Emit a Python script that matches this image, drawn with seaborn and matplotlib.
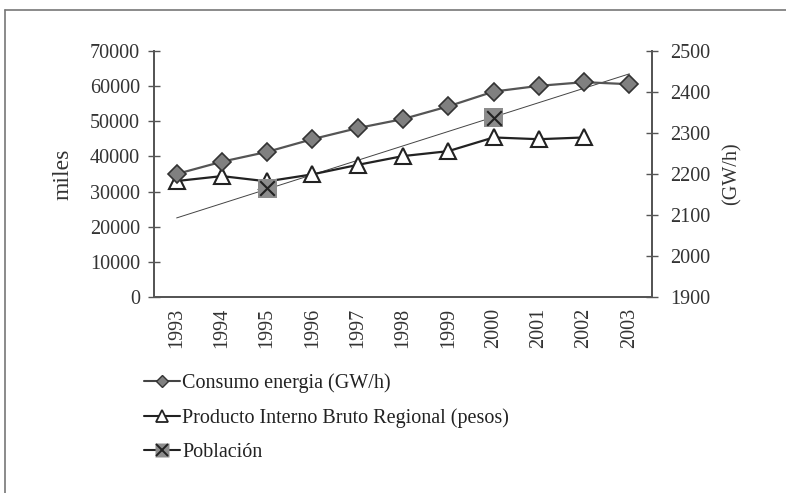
import matplotlib
matplotlib.use("Agg")
import matplotlib.pyplot as plt
from matplotlib.lines import Line2D
import seaborn as sns
import pandas as pd

sns.set_theme(style="white")
plt.rcParams['font.family'] = ['Liberation Serif', 'DejaVu Serif']

years = [1993, 1994, 1995, 1996, 1997, 1998, 1999, 2000, 2001, 2002, 2003]
year_labels = [str(y) for y in years]
consumo_gwh = [2200, 2230, 2254, 2285, 2312, 2334, 2365, 2401, 2415, 2424, 2419]
pib = [33000, 34400, 32900, 34900, 37600, 40100, 41500, 45400, 44900, 45400]
poblacion_years = [1995, 2000]
poblacion = [30900, 51000]
trend_years = [1993, 2003]
trend_vals = [22500, 63500]

left_ticks = [0, 10000, 20000, 30000, 40000, 50000, 60000, 70000]
right_ticks = [1900, 2000, 2100, 2200, 2300, 2400, 2500]

fig = plt.figure(figsize=(7.86, 4.93), dpi=100)
W, H = 786, 493
ax = fig.add_axes([154 / W, 1 - 297 / H, (652 - 154) / W, (297 - 51) / H])
ax2 = ax.twinx()

pos = {y: i for i, y in enumerate(years)}
df_c = pd.DataFrame({"x": [pos[y] for y in years], "v": consumo_gwh})
df_p = pd.DataFrame({"x": [pos[y] for y in years[:len(pib)]], "v": pib})
df_pob = pd.DataFrame({"x": [pos[y] for y in poblacion_years], "v": poblacion})
df_t = pd.DataFrame({"x": [pos[y] for y in trend_years], "v": trend_vals})

# trend line
sns.lineplot(data=df_t, x="x", y="v", ax=ax, color="#444444", lw=0.7, zorder=2)
# PIB
sns.lineplot(data=df_p, x="x", y="v", ax=ax, color="#222222", lw=1.6,
             marker="^", markersize=11, markerfacecolor="white",
             markeredgecolor="#222222", markeredgewidth=1.5, zorder=4)
# Poblacion
sns.scatterplot(data=df_pob, x="x", y="v", ax=ax, marker="s", s=190,
                color="#8c8c8c", edgecolor="none", zorder=5)
sns.scatterplot(data=df_pob, x="x", y="v", ax=ax, marker="x", s=110,
                color="#222222", linewidth=1.5, zorder=6)
# Consumo on right axis
sns.lineplot(data=df_c, x="x", y="v", ax=ax2, color="#555555", lw=1.6,
             marker="D", markersize=9, markerfacecolor="#808080",
             markeredgecolor="#333333", markeredgewidth=1.2, zorder=4)

FS = 14.5
ax.set_xlim(-0.5, len(years) - 0.5)
ax.set_ylim(0, 70000)
ax2.set_ylim(1900, 2500)
ax.set_yticks(left_ticks)
ax.set_yticklabels([str(t) for t in left_ticks])
ax2.set_yticks(right_ticks)
ax2.set_yticklabels([str(t) for t in right_ticks])
ax.set_xticks(range(len(years)))
ax.set_xticklabels(year_labels, rotation=90)
ax.set_xticks([i - 0.5 for i in range(len(years) + 1)], minor=True)
ax.tick_params(axis='x', which='major', length=0, pad=8, labelsize=FS, colors="#333333")
ax.tick_params(axis='x', which='minor', length=7, direction='inout', width=1, color="#555555")
ax.tick_params(axis='y', length=8, direction='inout', width=1, labelsize=FS, pad=6,
               colors="#333333", color="#555555", left=True)
ax2.tick_params(axis='y', length=8, direction='inout', width=1, labelsize=FS, pad=9,
                colors="#333333", color="#555555", right=True)
ax.set_xlabel("")
ax.set_ylabel("miles", fontsize=17, color="#333333", labelpad=12)
ax2.set_ylabel("(GW/h)", fontsize=14.5, color="#333333", labelpad=9)

for a in (ax, ax2):
    a.grid(False)
    for s in ("left", "right", "bottom"):
        a.spines[s].set_visible(True)
        a.spines[s].set_color("#555555")
        a.spines[s].set_linewidth(1.3)
    a.spines["top"].set_visible(False)
if ax.get_legend():
    ax.get_legend().remove()
if ax2.get_legend():
    ax2.get_legend().remove()

handles = [
    Line2D([], [], color="#444444", lw=1.5, marker="D", markersize=6,
           markerfacecolor="#808080", markeredgecolor="#333333"),
    Line2D([], [], color="#222222", lw=1.5, marker="^", markersize=8,
           markerfacecolor="white", markeredgecolor="#222222", markeredgewidth=1.3),
    (Line2D([], [], color="#222222", lw=1.5, marker="s", markersize=10,
            markerfacecolor="#8c8c8c", markeredgecolor="none"),
     Line2D([], [], color="none", marker="x", markersize=8,
            markeredgecolor="#222222", markeredgewidth=1.4)),
]
labels = ["Consumo energia (GW/h)", "Producto Interno Bruto Regional (pesos)", "Población"]
leg = fig.legend(handles, labels, loc="upper left", bbox_to_anchor=(126 / W, 1 - 355 / H),
                 frameon=False, fontsize=FS, labelspacing=0.75, handlelength=1.8,
                 handletextpad=0.1, labelcolor="#222222")

# outer frame
fig.add_artist(Line2D([4.5 / W, 1.0], [1 - 10 / H, 1 - 10 / H], transform=fig.transFigure,
                      color="#777777", lw=1.2))
fig.add_artist(Line2D([4.5 / W, 4.5 / W], [0, 1 - 10 / H], transform=fig.transFigure,
                      color="#777777", lw=1.2))

fig.savefig("out.png", dpi=100)
